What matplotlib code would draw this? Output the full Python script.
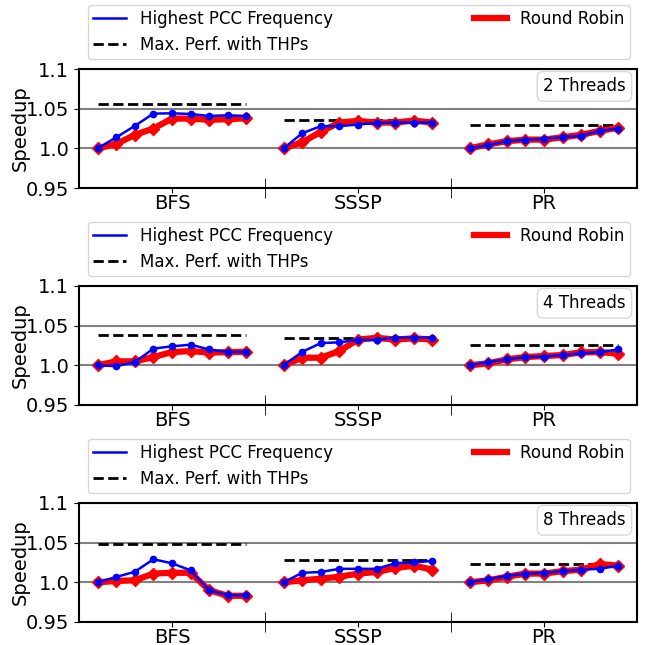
import numpy as np
import matplotlib
matplotlib.use("Agg")
import matplotlib.pyplot as plt
from matplotlib.lines import Line2D

# benchmarks and thread counts
benchmarks = ["BFS", "SSSP", "PR"]
threads = ["2 Threads", "4 Threads", "8 Threads"]

# speedup per panel, per benchmark (9 points each)
pcc = [
    [[1.0, 1.0138, 1.0283, 1.0438, 1.0442, 1.0433, 1.0408, 1.0417, 1.0408],
     [1.0, 1.019, 1.028, 1.028, 1.030, 1.032, 1.0325, 1.0325, 1.0325],
     [1.0, 1.004, 1.009, 1.011, 1.012, 1.014, 1.016, 1.022, 1.025]],
    [[1.0, 0.999, 1.004, 1.021, 1.024, 1.026, 1.020, 1.0167, 1.017],
     [1.0, 1.017, 1.028, 1.029, 1.032, 1.032, 1.035, 1.035, 1.035],
     [1.0, 1.004, 1.0075, 1.0104, 1.011, 1.013, 1.015, 1.0167, 1.020]],
    [[1.0, 1.0067, 1.0133, 1.029, 1.024, 1.015, 0.990, 0.9837, 0.9837],
     [1.0, 1.012, 1.013, 1.017, 1.017, 1.017, 1.024, 1.025, 1.027],
     [1.0, 1.004, 1.008, 1.011, 1.012, 1.014, 1.016, 1.017, 1.021]],
]
rr = [
    [[1.0, 1.0054, 1.017, 1.025, 1.0375, 1.0375, 1.036, 1.0367, 1.038],
     [1.0, 1.0075, 1.021, 1.0325, 1.0346, 1.0325, 1.0325, 1.035, 1.0325],
     [1.0, 1.005, 1.009, 1.011, 1.011, 1.014, 1.017, 1.022, 1.026]],
    [[1.0, 1.005, 1.005, 1.0104, 1.0167, 1.018, 1.016, 1.0167, 1.017],
     [1.0, 1.0096, 1.0096, 1.018, 1.0325, 1.0346, 1.0325, 1.034, 1.0325],
     [1.0, 1.0025, 1.0075, 1.0104, 1.0117, 1.013, 1.0163, 1.0167, 1.0146]],
    [[1.0, 1.0017, 1.0025, 1.011, 1.012, 1.012, 0.990, 0.983, 0.983],
     [1.0, 1.0025, 1.0046, 1.007, 1.011, 1.013, 1.018, 1.021, 1.016],
     [1.0, 1.0025, 1.007, 1.011, 1.011, 1.014, 1.016, 1.023, 1.021]],
]
thp = [
    [1.056, 1.0354, 1.029],
    [1.0388, 1.035, 1.026],
    [1.048, 1.0275, 1.023],
]

yticks = [0.95, 1.0, 1.05, 1.1]
ytick_labels = ["0.95", "1.0", "1.05", "1.1"]

fig = plt.figure(figsize=(6.46, 6.45), dpi=100)

tops = [0.893, 0.5566, 0.2202]
height = 0.1845
npts = 9

# legend handles without markers
handles = [Line2D([], [], color='blue', lw=1.8),
           Line2D([], [], color='black', ls='--', lw=2),
           Line2D([], [], color='red', lw=4.5)]
labels = ['Highest PCC Frequency', 'Max. Perf. with THPs', 'Round Robin']

for p in range(3):
    ax = fig.add_axes([0.1223, tops[p] - height, 0.8637, height])
    for b in range(3):
        x = np.arange(npts) + b * (npts + 1)
        ax.plot(x, rr[p][b], color='red', lw=4.5, marker='D', ms=6, zorder=3)
        ax.plot(x, pcc[p][b], color='blue', lw=1.8, marker='o', ms=4.5, zorder=4)
        ax.plot([x[0], x[-1]], [thp[p][b]] * 2, color='black', ls='--', lw=2, zorder=2)

    ax.set_xlim(-1, 29)
    ax.set_ylim(0.95, 1.1)
    ax.set_yticks(yticks)
    ax.set_yticklabels(ytick_labels, fontsize=14)
    ax.yaxis.grid(True, color='gray', lw=1.5)
    ax.set_axisbelow(True)
    ax.set_xticks([4, 14, 24])
    ax.set_xticklabels(benchmarks, fontsize=14)
    ax.tick_params(axis='x', which='major', pad=0.5)
    ax.set_xticks([9, 19], minor=True)
    ax.tick_params(axis='x', which='minor', direction='inout', length=14)
    ax.set_ylabel('Speedup', fontsize=14)
    ax.yaxis.set_label_coords(-0.088, 0.5)
    for s in ax.spines.values():
        s.set_linewidth(1.5)

    ax.text(0.98, 0.93, threads[p], transform=ax.transAxes, ha='right', va='top',
            fontsize=12, bbox=dict(boxstyle='round,pad=0.35', fc='white', ec='0.85'))

    ax.legend(handles, labels, ncol=2, mode='expand',
              loc='lower left', bbox_to_anchor=(0.016, 1.084, 0.971, 0.45),
              borderaxespad=0, fontsize=12, borderpad=0.3)

plt.savefig('out.png', dpi=100)
